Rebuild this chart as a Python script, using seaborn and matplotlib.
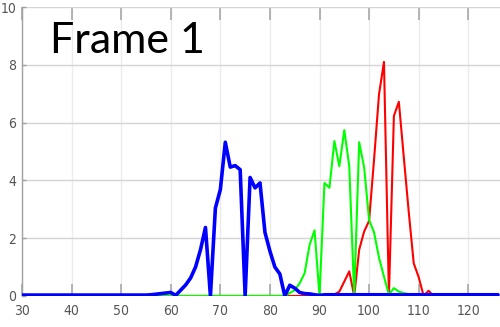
import matplotlib
matplotlib.use("Agg")
import matplotlib.pyplot as plt
import seaborn as sns
import pandas as pd

# Sample positions (one per unit step)
x_vals = list(range(30, 127))

# Blue series
blue = [
    0.03, 0.03, 0.03, 0.03, 0.03, 0.03, 0.03, 0.03, 0.03, 0.03,   # 30-39
    0.03, 0.03, 0.03, 0.03, 0.03, 0.03, 0.03, 0.03, 0.03, 0.03,   # 40-49
    0.03, 0.03, 0.03, 0.03, 0.03, 0.03, 0.04, 0.06, 0.08, 0.10,   # 50-59
    0.12, 0.02, 0.20, 0.38, 0.62, 1.00, 1.60, 2.37, 0.00, 3.04,   # 60-69
    3.68, 5.32, 4.46, 4.51, 4.37, 0.00, 4.10, 3.74, 3.91, 2.20,   # 70-79
    1.55, 1.00, 0.76, 0.00, 0.37, 0.27, 0.12, 0.08, 0.07, 0.04,   # 80-89
    0.02, 0.04, 0.04, 0.04, 0.04, 0.04, 0.04, 0.04, 0.04, 0.04,   # 90-99
    0.04, 0.04, 0.04, 0.04, 0.04, 0.04, 0.04, 0.04, 0.04, 0.04,   # 100-109
    0.04, 0.04, 0.04, 0.04, 0.04, 0.04, 0.04, 0.04, 0.04, 0.04,   # 110-119
    0.04, 0.04, 0.04, 0.04, 0.04, 0.04, 0.04,                     # 120-126
]

# Green series
green = [
    0.00, 0.00, 0.00, 0.00, 0.00, 0.00, 0.00, 0.00, 0.00, 0.00,   # 30-39
    0.00, 0.00, 0.00, 0.00, 0.00, 0.00, 0.00, 0.00, 0.00, 0.00,   # 40-49
    0.00, 0.00, 0.00, 0.00, 0.00, 0.00, 0.00, 0.00, 0.00, 0.00,   # 50-59
    0.00, 0.00, 0.00, 0.00, 0.00, 0.00, 0.00, 0.00, 0.00, 0.00,   # 60-69
    0.00, 0.00, 0.00, 0.00, 0.00, 0.00, 0.00, 0.00, 0.00, 0.00,   # 70-79
    0.00, 0.00, 0.00, 0.00, 0.10, 0.20, 0.44, 0.79, 1.77, 2.27,   # 80-89
    0.00, 3.91, 3.74, 5.36, 4.49, 5.74, 4.49, 0.00, 5.32, 4.45,   # 90-99
    2.63, 2.20, 1.32, 0.67, 0.05, 0.27, 0.15, 0.10, 0.06, 0.04,   # 100-109
    0.03, 0.03, 0.03, 0.03, 0.03, 0.03, 0.03, 0.03, 0.03, 0.03,   # 110-119
    0.03, 0.03, 0.03, 0.03, 0.03, 0.03, 0.03,                     # 120-126
]

# Red series
red = [
    0.00, 0.00, 0.00, 0.00, 0.00, 0.00, 0.00, 0.00, 0.00, 0.00,   # 30-39
    0.00, 0.00, 0.00, 0.00, 0.00, 0.00, 0.00, 0.00, 0.00, 0.00,   # 40-49
    0.00, 0.00, 0.00, 0.00, 0.00, 0.00, 0.00, 0.00, 0.00, 0.00,   # 50-59
    0.00, 0.00, 0.00, 0.00, 0.00, 0.00, 0.00, 0.00, 0.00, 0.00,   # 60-69
    0.00, 0.00, 0.00, 0.00, 0.00, 0.00, 0.00, 0.00, 0.00, 0.00,   # 70-79
    0.00, 0.00, 0.00, 0.00, 0.00, 0.00, 0.00, 0.00, 0.00, 0.00,   # 80-89
    0.00, 0.00, 0.00, 0.05, 0.15, 0.50, 0.85, 0.00, 1.60, 2.23,   # 90-99
    2.60, 4.72, 6.98, 8.10, 0.00, 6.23, 6.72, 4.80, 2.90, 1.13,   # 100-109
    0.65, 0.00, 0.18, 0.00, 0.00, 0.00, 0.00, 0.00, 0.00, 0.00,   # 110-119
    0.00, 0.00, 0.00, 0.00, 0.00, 0.00, 0.00,                     # 120-126
]

x_ticks = [30, 40, 50, 60, 70, 80, 90, 100, 110, 120]
y_ticks = [0, 2, 4, 6, 8, 10]
title_text = "Frame 1"

sns.set_theme(style="white")
plt.rcParams["font.family"] = ["DejaVu Sans"]
plt.rcParams["font.stretch"] = "condensed"

fig = plt.figure(figsize=(5.0, 3.27), dpi=100)
ax = fig.add_axes([0.044, 0.095, 0.956, 0.8835])

series = [("red", red, "#ff0000", 1.5), ("green", green, "#00ff00", 1.5), ("blue", blue, "#0000ff", 2.6)]
for name, vals, color, lw in series:
    df = pd.DataFrame({"x": x_vals, "y": vals})
    sns.lineplot(data=df, x="x", y="y", ax=ax, color=color, linewidth=lw,
                 estimator=None, errorbar=None, zorder=3)

ax.set_xlim(30, 126.4)
ax.set_ylim(0, 10)
ax.set_xticks(x_ticks)
ax.set_yticks(y_ticks)
ax.set_xlabel("")
ax.set_ylabel("")

ax.grid(True, axis="y", color="#d4d4d4", linewidth=1.0, zorder=0)
ax.grid(True, axis="x", color="#ebebeb", linewidth=1.0, zorder=0)

for side in ["top", "right", "bottom"]:
    ax.spines[side].set_visible(False)
ax.spines["left"].set_color("#a0a0a0")
ax.spines["left"].set_linewidth(1.0)

ax.tick_params(axis="x", which="both", direction="in", length=9, width=1.2,
               color="#a8a8a8", top=True, bottom=True, labelsize=10,
               labelcolor="#555555", pad=6)
ax.tick_params(axis="y", which="both", direction="in", length=3, width=1.0,
               color="#a0a0a0", left=True, labelsize=10, labelcolor="#555555", pad=4)
for lab in ax.get_xticklabels() + ax.get_yticklabels():
    lab.set_fontstretch("condensed")

ax.text(0.058, 0.84, title_text, transform=ax.transAxes, fontsize=31,
        family=["Lato", "DejaVu Sans"], color="black", ha="left", va="baseline", zorder=5)

fig.savefig("out.png", dpi=100)
